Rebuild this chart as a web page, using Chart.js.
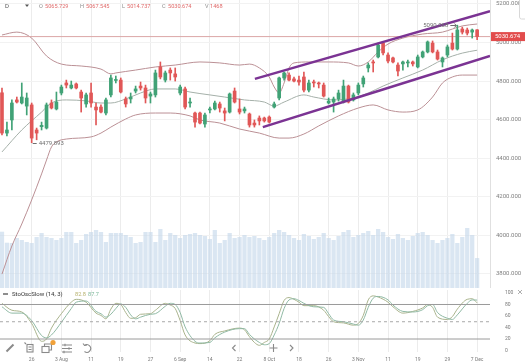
<!DOCTYPE html>
<html>
<head>
<meta charset="utf-8">
<title>Daily chart</title>
<script src="https://cdn.jsdelivr.net/npm/chart.js@4.4.1/dist/chart.umd.min.js"></script>
<style>
  html, body { margin: 0; padding: 0; background: #fff; }
  #wrap { position: relative; width: 525px; height: 364px; overflow: hidden; font-family: Roboto, "Noto Sans", sans-serif; }
  canvas { position: absolute; left: 0; }
  #main { top: 0; }
  #osc { top: 290px; }
  .lbl { position: absolute; white-space: nowrap; font-size: 5.6px; line-height: 8px; }
  .k { color: #8c8c8c; }
  .v { color: #e06b6b; }
  svg { position: absolute; left: 0; top: 0; pointer-events: none; }
</style>
</head>
<body>
<div id="wrap">
  <canvas id="main" width="525" height="288"></canvas>
  <canvas id="osc" width="525" height="74"></canvas>

  <!-- header -->
  <div class="lbl" style="left:5px;top:2px;color:#555;font-size:6px">D</div>
  <div class="lbl k" style="left:39px;top:2px">O</div><div class="lbl v" id="vO" style="left:45px;top:2px"></div>
  <div class="lbl k" style="left:80px;top:2px">H</div><div class="lbl v" id="vH" style="left:86px;top:2px"></div>
  <div class="lbl k" style="left:122px;top:2px">L</div><div class="lbl v" id="vL" style="left:127px;top:2px"></div>
  <div class="lbl k" style="left:162px;top:2px">C</div><div class="lbl v" id="vC" style="left:168px;top:2px"></div>
  <div class="lbl k" style="left:205px;top:2px">V</div><div class="lbl v" id="vV" style="left:210px;top:2px"></div>

  <!-- oscillator header -->
  <div class="lbl" style="left:12px;top:290px;color:#333;font-size:6px">StoOscSlow (14, 3)</div>
  <div class="lbl" id="oK" style="left:75px;top:290px;color:#b7b26e;font-size:5.6px"></div>
  <div class="lbl" id="oD" style="left:88px;top:290px;color:#7db89b;font-size:5.6px"></div>

  <svg width="525" height="364">
    <path d="M25 4.5 L29 4.5 L27 7 Z" fill="#555"/>
    <rect x="519.5" y="-3" width="9" height="22" rx="2" fill="#fff" stroke="#d8d8d8"/>
    <line x1="3" y1="294" x2="8" y2="294" stroke="#444" stroke-width="1.2"/>
    <path d="M518 290 l4 4 M522 290 l-4 4" stroke="#999" stroke-width="0.8"/>
    <g fill="none" stroke="#8a8a8a" stroke-width="1.1">
      <path d="M6.5 351.5 L13.5 344.5" stroke-width="2"/>
      <path d="M24.5 342.5 l1.5 1.5"/>
      <rect x="27" y="344.5" width="6" height="7.5"/>
      <path d="M28.5 347 h3 M28.5 349.5 h3"/>
      <rect x="42" y="346.5" width="7" height="6"/>
      <path d="M44.5 346.5 v-2.5 h7 v6 h-2.5"/>
      <path d="M62 345 h10 M62 348.5 h10 M62 352 h10"/>
      <path d="M65 343.8 v2.4 M69 347.3 v2.4 M64 350.8 v2.4"/>
      <path d="M84.5 345.5 a3.8 3.8 0 1 1 0 6"/>
      <path d="M83 343.5 l1.5 2 l2.5 -0.6"/>
      <path d="M235.5 345 L232.5 348 L235.5 351"/>
      <path d="M269.5 348 h8 M273.5 344 v8"/>
      <path d="M290 345 L293 348 L290 351"/>
    </g>
    <circle cx="53" cy="342.5" r="2.6" fill="#f0a13a"/>
  </svg>
</div>

<script>
// ---- candles (daily) ----
const opens  = [4739,4530,4598,4702,4686,4670,4676,4546,4563,4556, 4686,4655,4738,4790,4764,4785,4743,4681,4738,4665,
                4665,4634,4728,4803,4805,4707,4707,4748,4774,4764, 4722,4728,4873,4805,4857,4837,4738,4759,4686,4634,
                4634,4577,4650,4655,4681,4645,4639,4748,4655,4645, 4629,4582,4608,4608,4613,4665,4712,4816,4831,4811,
                4805,4821,4753,4795,4790,4779,4686,4691,4707,4691, 4774,4702,4738,4785,4868,4899,4925,4997,4935,4920,
                4883,4889,4894,4899,4873,4925,4951,4997,4951,4899, 4935,4997,4966,5070,5065,5054,5065.729];
const highs  = [4764,4587,4702,4717,4790,4738,4686,4556,4587,4686, 4702,4743,4779,4805,4800,4790,4753,4738,4790,4686,
                4676,4712,4831,4826,4816,4717,4738,4774,4795,4779, 4743,4857,4899,4852,4868,4868,4779,4769,4712,4639,
                4639,4634,4665,4696,4691,4660,4738,4764,4707,4665, 4634,4598,4619,4613,4619,4691,4821,4847,4842,4821,
                4826,4847,4805,4805,4795,4790,4712,4717,4753,4805, 4779,4738,4790,4826,4894,4909,4997,5003,4946,4925,
                4894,4904,4909,4904,4935,4956,5008,5008,4961,4925, 4987,5049,5090.068,5080,5075,5070,5067.545];
const lows   = [4520,4515,4546,4686,4681,4624,4479.893,4495,4546,4551, 4655,4650,4728,4764,4759,4759,4639,4665,4665,4572,
                4634,4624,4717,4790,4738,4665,4686,4738,4753,4686, 4686,4717,4811,4795,4805,4800,4728,4655,4665,4561,
                4577,4561,4634,4650,4639,4593,4634,4686,4629,4634, 4561,4561,4572,4587,4582,4660,4702,4805,4800,4795,
                4779,4743,4743,4769,4764,4717,4681,4639,4696,4686, 4686,4696,4728,4769,4847,4847,4920,4935,4894,4894,
                4826,4857,4873,4878,4868,4920,4946,4946,4909,4873, 4925,4961,4961,5044,5039,5023,5014.737];
const closes = [4530,4546,4686,4691,4717,4712,4504,4530,4570,4676, 4660,4691,4769,4779,4779,4764,4712,4728,4686,4650,
                4639,4702,4816,4808,4743,4681,4717,4759,4764,4712, 4733,4842,4821,4842,4842,4821,4769,4665,4691,4587,
                4582,4624,4655,4686,4660,4634,4733,4691,4639,4655, 4572,4572,4593,4593,4587,4681,4816,4842,4805,4800,
                4795,4753,4790,4790,4785,4722,4696,4707,4738,4774, 4691,4728,4779,4816,4883,4894,4987,4946,4904,4899,
                4852,4899,4899,4889,4925,4951,5003,4951,4914,4920, 4977,4966,5065,5054,5049,5065,5030.674];
const volumes = [2759,2220,2205,2450,2352,2254,2205,2499,2695,2499, 2450,2352,2450,2744,2744,2205,2352,2646,2744,2842,
                 2744,2254,2695,2695,2695,2597,2499,2205,2254,2744, 2744,2254,2891,2352,2695,2597,2450,2597,2646,2695,
                 2597,2548,2401,2842,2205,2352,2695,2450,2499,2597, 2499,2548,2450,2352,2499,2695,2842,2744,2597,2450,
                 2352,2646,2548,2401,2499,2695,2450,2352,2548,2744, 2842,2499,2597,2695,2793,2597,2891,2744,2499,2401,
                 2646,2450,2352,2548,2695,2744,2597,2352,2205,2352, 2450,2646,2205,2499,2940,2597,1468];

// ---- Bollinger bands (candle index -> price) ----
const bbUpperIdx = [0,3,6,9,12,16,20,22,23,27,31,35,40,44,48,50,52,54,55,56,57,58,59,62,66,70,72,74,76,78,81,85,89,91,93,96];
const bbUpper    = [5039,5054,5023,4930,4888,4878,4862,4837,4842,4857,4873,4883,4899,4894,4883,4888,4868,4821,4769,4738,
                    4790,4868,4894,4899,4899,4894,4878,4899,4951,4992,5023,5044,5054,5070,5086,5096];
const bbMidIdx   = [0,4,8,10,13,17,20,22,25,28,31,35,38,42,45,49,53,55,57,61,63,67,71,74,77,81,85,89,93,96];
const bbMid      = [4432,4546,4639,4686,4702,4697,4686,4686,4707,4738,4759,4759,4743,4728,4717,4702,4691,4670,4691,4728,
                    4717,4702,4712,4738,4774,4816,4857,4910,4945,4960];
const bbLowerIdx = [0,2,4,6,8,9,10,11,13,18,20,22,25,27,31,34,38,40,44,48,52,56,58,61,64,68,72,75,78,81,84,87,89,91,93,96];
const bbLower    = [3798,3944,4058,4183,4318,4390,4458,4484,4499,4510,4530,4561,4603,4624,4634,4634,4619,4598,4582,4551,
                    4530,4504,4504,4525,4567,4619,4660,4676,4650,4639,4650,4717,4790,4821,4831,4831];

// ---- drawn trend channel ----
const chanTopIdx = [51.1, 98.6];
const chanTop    = [4811, 5163];
const chanBotIdx = [52.7, 98.6];
const chanBot    = [4561, 4930];

// ---- slow stochastic (14, 3) ----
const stochIdx = [0,2,4,6,8,9,10,12,14,15,17,19,20,21,22,23,24,25,26,27,28,30,31,33,34,35,36,37,39,40,
                  42,43,45,48,49,50,51,52,53,54,55,56,57,58,59,60,61,63,65,66,67,69,71,72,73,74,75,76,78,79,
                  81,83,85,86,87,88,90,91,92,94,95,96];
const stochK   = [82,70,67,47,16,20,39,64,84,89,84,65,61,55,72,82,80,66,56,57,63,64,70,82,79,73,52,27,13,12,
                  17,28,34,39,36,24,14,9,14,20,41,64,87,92,89,84,78,78,70,59,50,48,44,47,61,88,95,93,84,76,
                  65,68,74,80,75,58,54,59,72,89,90,82.8];
const stochD   = [76,65,65,52,26,22,27,49,73,84,86,68,64,58,63,73,81,75,62,55,58,63,64,77,82,80,66,41,16,13,
                  14,22,32,38,38,28,20,14,10,12,27,47,73,88,90,87,82,76,75,64,53,50,46,44,53,75,91,94,88,79,
                  68,67,71,78,80,66,56,54,62,82,88,87.7];
const oscLevels = [80, 50, 20];

// ---- axes ----
const tickIdx    = [6,12,18,24,30,36,42,48,54,60,66,72,78,84,90,96];
const tickLabels = ["26","3 Aug","11","19","27","6 Sep","14","22","8 Oct","18","26","3 Nov","11","19","29","7 Dec"];
const priceTicks = [3800,4000,4200,4400,4600,4800,5000,5200];
const oscTicks   = [0,20,40,60,80,100];

const UP = '#41a276', DOWN = '#e15757', BAND = '#bb9095', MID = '#a5b0a9', CHAN = '#7b3393';
const xMin = -0.4, xMax = 98.6;
const last = closes.length - 1;

Chart.defaults.font.family = 'Roboto, "Noto Sans", sans-serif';

const pts = (xs, ys) => xs.map((x, k) => ({ x, y: ys[k] }));
const idx = closes.map((_, i) => i);
const candleColor = ctx => closes[ctx.dataIndex] >= opens[ctx.dataIndex] ? UP : DOWN;
const lineDs = (label, data, color, extra) => Object.assign({
  type: 'line', label, data, borderColor: color, borderWidth: 1, pointRadius: 0,
  fill: false, cubicInterpolationMode: 'monotone'
}, extra);

// header values
document.getElementById('vO').textContent = opens[last].toFixed(3);
document.getElementById('vH').textContent = highs[last].toFixed(3);
document.getElementById('vL').textContent = lows[last].toFixed(3);
document.getElementById('vC').textContent = closes[last].toFixed(3);
document.getElementById('vV').textContent = volumes[last];
document.getElementById('oK').textContent = stochK[stochK.length - 1].toFixed(1);
document.getElementById('oD').textContent = stochD[stochD.length - 1].toFixed(1);

function timeAxis(showLabels) {
  return {
    type: 'linear', min: xMin, max: xMax, offset: false,
    grid: { color: '#ececec', drawTicks: false, offset: false },
    border: { display: false },
    ticks: {
      display: showLabels, font: { size: 5 }, color: '#7a7a7a', padding: 5,
      maxRotation: 0, autoSkip: false,
      callback: (v, i) => tickLabels[i]
    },
    afterBuildTicks: s => { s.ticks = tickIdx.map(v => ({ value: v })); },
    afterFit: s => { s.height = showLabels ? 12 : 0; s.paddingLeft = 0; s.paddingRight = 0; }
  };
}

// high / low markers and last price tag
const markers = {
  id: 'markers',
  afterDatasetsDraw(chart) {
    const { ctx, chartArea, scales: { x, y } } = chart;
    const hiI = highs.indexOf(Math.max(...highs));
    const loI = lows.indexOf(Math.min(...lows));
    ctx.save();
    ctx.font = '6px Roboto, "Noto Sans", sans-serif';
    ctx.textBaseline = 'middle';
    ctx.fillStyle = '#6f6f6f';
    ctx.strokeStyle = '#6f6f6f';
    ctx.lineWidth = 1;

    let px = x.getPixelForValue(loI), py = Math.round(y.getPixelForValue(lows[loI])) + 0.5;
    ctx.beginPath(); ctx.moveTo(px + 1, py); ctx.lineTo(px + 5, py); ctx.stroke();
    ctx.textAlign = 'left';
    ctx.fillText(lows[loI].toFixed(3), px + 7, py);

    px = x.getPixelForValue(hiI); py = Math.round(y.getPixelForValue(highs[hiI])) + 0.5;
    ctx.beginPath(); ctx.moveTo(px - 7, py); ctx.lineTo(px - 1, py);
    ctx.moveTo(px - 3, py - 2); ctx.lineTo(px - 1, py); ctx.lineTo(px - 3, py + 2); ctx.stroke();
    ctx.textAlign = 'right';
    ctx.fillText(highs[hiI].toFixed(3), px - 9, py);

    const ly = y.getPixelForValue(closes[last]);
    ctx.fillStyle = '#e24c4c';
    ctx.fillRect(chartArea.right + 1, ly - 4.5, 34, 9);
    ctx.fillStyle = '#fff';
    ctx.textAlign = 'left';
    ctx.fillText(closes[last].toFixed(3), chartArea.right + 5, ly + 0.3);
    ctx.restore();
  }
};

new Chart(document.getElementById('main'), {
  type: 'bar',
  data: {
    datasets: [
      { type: 'bar', label: 'Volume', yAxisID: 'vol', data: pts(idx, volumes),
        backgroundColor: 'rgba(196,215,234,0.62)', categoryPercentage: 1, barPercentage: 0.86,
        grouped: false, order: 10 },
      lineDs('BB upper', pts(bbUpperIdx, bbUpper), BAND, { order: 8 }),
      lineDs('BB middle', pts(bbMidIdx, bbMid), MID, { order: 8 }),
      lineDs('BB lower', pts(bbLowerIdx, bbLower), BAND, { order: 8 }),
      lineDs('Last', [{ x: xMin, y: closes[last] }, { x: xMax, y: closes[last] }], '#dba6a6', { order: 7 }),
      { type: 'bar', label: 'Wick', data: idx.map(i => ({ x: i, y: [lows[i], highs[i]] })),
        backgroundColor: candleColor, barThickness: 1, grouped: false, order: 4 },
      { type: 'bar', label: 'Body', data: idx.map(i => ({ x: i, y: [opens[i], closes[i]] })),
        backgroundColor: candleColor, barThickness: 3, minBarLength: 1, grouped: false, order: 3 },
      lineDs('Channel top', pts(chanTopIdx, chanTop), CHAN, { borderWidth: 2.5, order: 1 }),
      lineDs('Channel bottom', pts(chanBotIdx, chanBot), CHAN, { borderWidth: 2.5, order: 1 })
    ]
  },
  options: {
    responsive: false, animation: false, events: [],
    layout: { padding: 0 },
    plugins: { legend: { display: false }, tooltip: { enabled: false } },
    scales: {
      x: timeAxis(false),
      y: {
        position: 'right', min: 3725.9, max: 5220.6,
        grid: { color: '#f2f2f2', drawTicks: false },
        border: { display: true, color: '#e0e0e0' },
        ticks: { font: { size: 6 }, color: '#808080', padding: 6, callback: v => v.toFixed(3) },
        afterBuildTicks: s => { s.ticks = priceTicks.map(v => ({ value: v })); },
        afterFit: s => { s.width = 35; s.paddingTop = 0; s.paddingBottom = 0; }
      },
      vol: { position: 'left', display: false, min: 0, max: 14112 }
    }
  },
  plugins: [markers]
});

new Chart(document.getElementById('osc'), {
  type: 'line',
  data: {
    datasets: [
      ...oscLevels.map(l => lineDs('Level ' + l, [{ x: xMin, y: l }, { x: xMax, y: l }],
        l === 50 ? '#a8a8a8' : '#9a9a9a', { borderDash: l === 50 ? [3, 3] : [] })),
      lineDs('%D', pts(stochIdx, stochD), '#8fb9a4'),
      lineDs('%K', pts(stochIdx, stochK), '#a9b38c')
    ]
  },
  options: {
    responsive: false, animation: false, events: [],
    layout: { padding: 0 },
    plugins: { legend: { display: false }, tooltip: { enabled: false } },
    scales: {
      x: timeAxis(true),
      y: {
        position: 'right', min: -2.6, max: 105.2,
        grid: { display: false }, border: { display: false },
        ticks: { font: { size: 5 }, color: '#7a7a7a', padding: 7 },
        afterBuildTicks: s => { s.ticks = oscTicks.map(v => ({ value: v })); },
        afterFit: s => { s.width = 35; s.paddingTop = 0; s.paddingBottom = 0; }
      }
    }
  }
});
</script>
</body>
</html>
